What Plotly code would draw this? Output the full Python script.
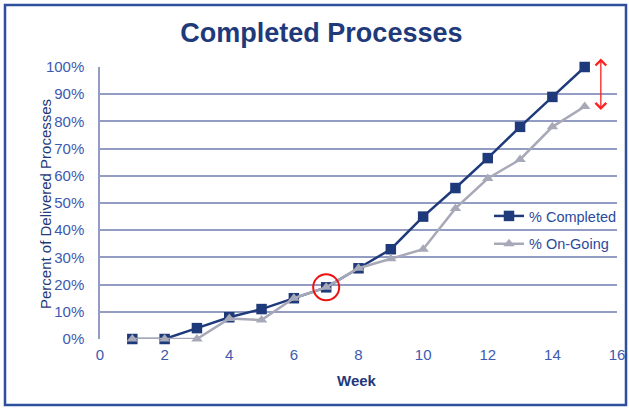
import plotly.graph_objects as go

weeks = [1, 2, 3, 4, 5, 6, 7, 8, 9, 10, 11, 12, 13, 14, 15]
completed = [0.0, 0.0, 0.04, 0.08, 0.11, 0.15, 0.19, 0.26, 0.33, 0.45, 0.555, 0.665, 0.78, 0.89, 1.0]
ongoing = [0.0, 0.0, 0.0, 0.075, 0.07, 0.15, 0.19, 0.26, 0.295, 0.33, 0.48, 0.59, 0.66, 0.78, 0.855]
x_ticks = [0, 2, 4, 6, 8, 10, 12, 14, 16]
y_ticks = [0, 0.1, 0.2, 0.3, 0.4, 0.5, 0.6, 0.7, 0.8, 0.9, 1.0]
highlight_week = 7
highlight_value = 0.19
gap_week = 15.5
gap_top = 1.037
gap_bottom = 0.842

NAVY = "#1F3A7A"
GRAY = "#A8A9B8"
GRID = "#939DC4"
TICK = "#3B5AB0"
FONT = "Liberation Sans, Arial, sans-serif"

fig = go.Figure()
fig.add_trace(go.Scatter(
    x=weeks, y=completed, name="% Completed", mode="lines+markers",
    line=dict(color=NAVY, width=2.5),
    marker=dict(symbol="square", size=10.5, color=NAVY),
    legendgroup="a", cliponaxis=False,
))
fig.add_trace(go.Scatter(
    x=weeks, y=ongoing, name="% On-Going", mode="lines+markers",
    line=dict(color=GRAY, width=2.5),
    marker=dict(symbol="triangle-up", size=10, color=GRAY),
    legendgroup="b", cliponaxis=False,
))

fig.update_layout(
    width=629, height=408,
    margin=dict(l=100, r=12, t=67, b=69, autoexpand=False),
    paper_bgcolor="white", plot_bgcolor="white",
    font=dict(family=FONT, color=TICK, size=13),
    title=dict(text="<b>Completed Processes</b>", x=0.511, xanchor="center",
               y=1 - 33 / 408, yanchor="middle",
               font=dict(size=27, color=NAVY, family=FONT)),
    showlegend=True,
    legend=dict(x=489 / 629, y=1 - 200 / 408, xref="container", yref="container",
                xanchor="left", yanchor="top",
                bgcolor="rgba(0,0,0,0)", tracegroupgap=6,
                font=dict(size=14.5, color="#2B4A9C", family=FONT)),
    xaxis=dict(range=[0, 16], tickvals=x_ticks, showgrid=False, zeroline=False,
               showline=False, ticks="", ticklabelstandoff=5, automargin=False,
               tickfont=dict(size=15, color=TICK)),
    yaxis=dict(range=[0, 1], tickvals=y_ticks, tickformat=".0%", showgrid=True,
               gridcolor=GRID, gridwidth=1.5, zeroline=False, showline=True,
               linecolor=GRID, linewidth=1.5, ticks="", ticklabelstandoff=11,
               automargin=False, tickfont=dict(size=15, color=TICK)),
    annotations=[
        dict(text="<b>Week</b>", x=(357 - 100) / 517, y=(339 - 380) / 272,
             xref="paper", yref="paper", xanchor="center", yanchor="middle",
             showarrow=False, font=dict(size=15, color=NAVY, family=FONT)),
        dict(text="Percent of Delivered Processes", x=(45 - 100) / 517, y=(339 - 204) / 272,
             xref="paper", yref="paper", xanchor="center", yanchor="middle",
             textangle=-90, showarrow=False,
             font=dict(size=15, color=NAVY, family=FONT)),
        dict(x=gap_week, y=gap_bottom, ax=gap_week, ay=gap_top, xref="x", yref="y",
             axref="x", ayref="y", text="", showarrow=True, arrowside="end+start",
             arrowhead=4, arrowsize=1.6, arrowwidth=1.3, arrowcolor="#FF2020"),
    ],
    shapes=[
        dict(type="rect", xref="paper", yref="paper",
             x0=(5 - 100) / 517, x1=(626 - 100) / 517,
             y0=(339 - 405) / 272, y1=(339 - 5) / 272,
             line=dict(color="#2E4E9E", width=2.5), layer="below"),
        dict(type="circle", xref="x", yref="y", xsizemode="pixel", ysizemode="pixel",
             xanchor=highlight_week, yanchor=highlight_value,
             x0=-13, x1=13, y0=-13, y1=13,
             line=dict(color="#EE1111", width=2)),
    ],
)

fig.write_html("out.html", config={"displayModeBar": False},
               post_script="document.body.style.margin='0';document.body.style.overflow='hidden';")
